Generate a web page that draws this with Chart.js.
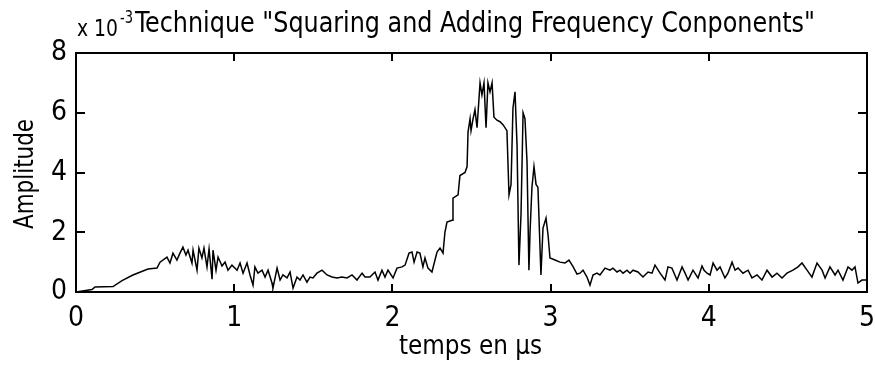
<!DOCTYPE html>
<html>
<head>
<meta charset="utf-8">
<script src="https://cdn.jsdelivr.net/npm/chart.js@4.4.1/dist/chart.umd.min.js"></script>
<style>
  html, body { margin: 0; padding: 0; background: #fff; }
  #wrap { width: 875px; height: 367px; }
</style>
</head>
<body>
<div id="wrap"><canvas id="chart"></canvas></div>
<script>
// time axis in µs, amplitude in units of 1e-3
const temps = [
  0, 0.051, 0.101, 0.120, 0.234, 0.291, 0.360, 0.455, 0.512, 0.531,
  0.575, 0.594, 0.613, 0.638, 0.657, 0.676, 0.695, 0.708, 0.733, 0.740,
  0.765, 0.777, 0.796, 0.809, 0.828, 0.841, 0.860, 0.866, 0.885, 0.898,
  0.923, 0.942, 0.961, 0.986, 1.018, 1.037, 1.056, 1.081, 1.100, 1.119,
  1.131, 1.150, 1.176, 1.195, 1.214, 1.239, 1.245, 1.271, 1.290, 1.308,
  1.334, 1.353, 1.372, 1.397, 1.416, 1.435, 1.460, 1.479, 1.498, 1.523,
  1.555, 1.587, 1.618, 1.650, 1.681, 1.713, 1.745, 1.776, 1.808, 1.827,
  1.858, 1.890, 1.909, 1.934, 1.953, 1.972, 2.004, 2.029, 2.061, 2.080,
  2.105, 2.124, 2.137, 2.156, 2.174, 2.193, 2.206, 2.225, 2.250, 2.282,
  2.301, 2.320, 2.332, 2.345, 2.377, 2.383, 2.415, 2.427, 2.459, 2.472,
  2.478, 2.491, 2.497, 2.510, 2.522, 2.535, 2.554, 2.566, 2.579, 2.592,
  2.604, 2.617, 2.630, 2.642, 2.661, 2.680, 2.699, 2.724, 2.737, 2.750,
  2.762, 2.775, 2.788, 2.800, 2.813, 2.826, 2.838, 2.851, 2.863, 2.870,
  2.882, 2.895, 2.908, 2.920, 2.939, 2.952, 2.971, 2.984, 2.996, 3.028,
  3.059, 3.091, 3.116, 3.142, 3.167, 3.186, 3.205, 3.230, 3.249, 3.268,
  3.293, 3.312, 3.344, 3.375, 3.394, 3.420, 3.439, 3.458, 3.483, 3.502,
  3.521, 3.552, 3.584, 3.616, 3.641, 3.660, 3.692, 3.723, 3.742, 3.767,
  3.799, 3.831, 3.850, 3.869, 3.900, 3.932, 3.957, 3.970, 3.989, 4.008,
  4.027, 4.052, 4.071, 4.102, 4.121, 4.147, 4.166, 4.185, 4.216, 4.248,
  4.273, 4.305, 4.336, 4.368, 4.400, 4.431, 4.463, 4.494, 4.532, 4.564,
  4.589, 4.621, 4.652, 4.684, 4.716, 4.735, 4.766, 4.798, 4.817, 4.848,
  4.880, 4.905, 4.924, 4.943, 4.968, 5.0
];
const amplitude = [
  0.0, 0.04, 0.08, 0.17, 0.18, 0.38, 0.57, 0.77, 0.8, 1.0,
  1.17, 0.97, 1.3, 1.07, 1.3, 1.5, 1.24, 1.4, 0.97, 1.4,
  0.73, 1.47, 1.14, 1.47, 0.84, 1.44, 0.43, 1.4, 0.73, 1.17,
  0.87, 1.0, 0.73, 0.9, 0.73, 0.97, 0.63, 0.97, 0.57, 0.23,
  0.84, 0.63, 0.73, 0.5, 0.73, 0.3, 0.13, 0.8, 0.4, 0.57,
  0.47, 0.67, 0.13, 0.5, 0.4, 0.57, 0.33, 0.5, 0.47, 0.63,
  0.73, 0.57, 0.5, 0.47, 0.5, 0.47, 0.57, 0.4, 0.63, 0.5,
  0.5, 0.67, 0.4, 0.73, 0.5, 0.73, 0.47, 0.8, 0.84, 0.9,
  1.3, 1.34, 1.0, 1.34, 1.3, 0.84, 1.14, 0.8, 0.67, 1.34,
  1.47, 1.3, 2.0, 2.34, 2.4, 3.14, 3.25, 3.9, 4.0, 4.2,
  5.35, 5.8, 5.4, 5.8, 6.1, 5.5, 7.0, 6.6, 7.0, 5.5,
  7.0, 6.7, 7.0, 5.85, 5.75, 5.7, 5.6, 5.4, 3.25, 3.6,
  6.15, 6.7, 4.9, 0.9, 2.6, 6.0, 5.8, 4.35, 0.73, 2.0,
  3.5, 4.2, 3.6, 3.5, 0.57, 2.14, 2.47, 1.9, 1.14, 1.07,
  1.0, 0.97, 1.07, 0.85, 0.6, 0.63, 0.73, 0.5, 0.23, 0.57,
  0.63, 0.57, 0.8, 0.73, 0.8, 0.67, 0.73, 0.63, 0.73, 0.63,
  0.73, 0.67, 0.5, 0.67, 0.63, 0.9, 0.63, 0.4, 0.84, 0.8,
  0.4, 0.84, 0.63, 0.4, 0.73, 0.47, 0.87, 0.73, 0.63, 0.57,
  0.97, 0.73, 0.84, 0.47, 0.63, 1.0, 0.73, 0.8, 0.63, 0.73,
  0.47, 0.57, 0.4, 0.73, 0.5, 0.63, 0.47, 0.63, 0.73, 0.84,
  0.97, 0.73, 0.5, 0.97, 0.73, 0.47, 0.84, 0.57, 0.73, 0.4,
  0.84, 0.73, 0.84, 0.3, 0.4, 0.4
];
const xTicks = [0, 1, 2, 3, 4, 5];
const yTicks = [0, 2, 4, 6, 8];

const titre = 'Technique "Squaring and Adding Frequency Conponents"';
const xLabel = 'temps en µs';
const yLabel = 'Amplitude';

const narrow = "'Liberation Sans Narrow', 'DejaVu Sans Condensed', 'Liberation Sans', sans-serif";

// text drawn with a horizontal stretch so it fills a given width
function stretchText(ctx, txt, x, y, w, font) {
  ctx.save();
  ctx.font = font;
  const m = ctx.measureText(txt).width;
  ctx.translate(x, y);
  ctx.scale(w / m, 1);
  ctx.fillText(txt, 0, 0);
  ctx.restore();
}

const frame = {
  id: 'frame',
  beforeDraw(chart) {
    const ctx = chart.ctx;
    ctx.save();
    ctx.fillStyle = '#fff';
    ctx.fillRect(0, 0, chart.width, chart.height);
    ctx.restore();
  },
  afterDraw(chart) {
    const ctx = chart.ctx;
    const a = chart.chartArea;
    const xs = chart.scales.x, ys = chart.scales.y;
    ctx.save();
    ctx.strokeStyle = '#000';
    ctx.lineWidth = 2;
    ctx.strokeRect(a.left, a.top, a.right - a.left, a.bottom - a.top);
    ctx.beginPath();
    xs.ticks.forEach(t => {
      const px = Math.round(xs.getPixelForValue(t.value));
      ctx.moveTo(px, a.bottom); ctx.lineTo(px, a.bottom - 8);
      ctx.moveTo(px, a.top); ctx.lineTo(px, a.top + 8);
    });
    ys.ticks.forEach(t => {
      const py = Math.round(ys.getPixelForValue(t.value));
      ctx.moveTo(a.left, py); ctx.lineTo(a.left + 9, py);
      ctx.moveTo(a.right, py); ctx.lineTo(a.right - 9, py);
    });
    ctx.stroke();

    // titles
    ctx.fillStyle = '#000';
    ctx.textBaseline = 'alphabetic';
    ctx.textAlign = 'left';
    stretchText(ctx, 'x 10', 77, 36, 41, '23px ' + narrow);
    stretchText(ctx, '-3', 120, 23, 13, '17px ' + narrow);
    stretchText(ctx, titre, 135, 32, 680, '28px ' + narrow);
    stretchText(ctx, xLabel, 399, 354, 143, '26px ' + narrow);

    ctx.translate(33, 229);
    ctx.rotate(-Math.PI / 2);
    stretchText(ctx, yLabel, 0, 0, 110, '26px ' + narrow);
    ctx.restore();
  }
};

new Chart(document.getElementById('chart'), {
  type: 'line',
  data: {
    datasets: [{
      data: temps.map((t, i) => ({ x: t, y: amplitude[i] })),
      borderColor: '#000',
      borderWidth: 1.5,
      pointRadius: 0,
      tension: 0,
      fill: false
    }]
  },
  options: {
    responsive: true,
    maintainAspectRatio: false,
    animation: false,
    events: [],
    layout: { padding: { top: 53, right: 8, left: 0, bottom: 0 } },
    plugins: { legend: { display: false }, tooltip: { enabled: false }, title: { display: false } },
    scales: {
      x: {
        type: 'linear', min: 0, max: 5,
        afterBuildTicks: s => { s.ticks = xTicks.map(v => ({ value: v })); },
        afterFit: s => { s.height = 75; s.paddingLeft = 0; s.paddingRight = 0; },
        grid: { display: false, drawTicks: false },
        border: { display: false },
        ticks: { color: '#000', padding: 10, maxRotation: 0, font: { family: narrow, size: 28 } }
      },
      y: {
        min: 0, max: 8,
        afterBuildTicks: s => { s.ticks = yTicks.map(v => ({ value: v })); },
        afterFit: s => { s.width = 76; s.paddingTop = 0; s.paddingBottom = 0; },
        grid: { display: false, drawTicks: false },
        border: { display: false },
        ticks: { color: '#000', padding: 9, font: { family: narrow, size: 28 } }
      }
    }
  },
  plugins: [frame]
});
</script>
</body>
</html>
